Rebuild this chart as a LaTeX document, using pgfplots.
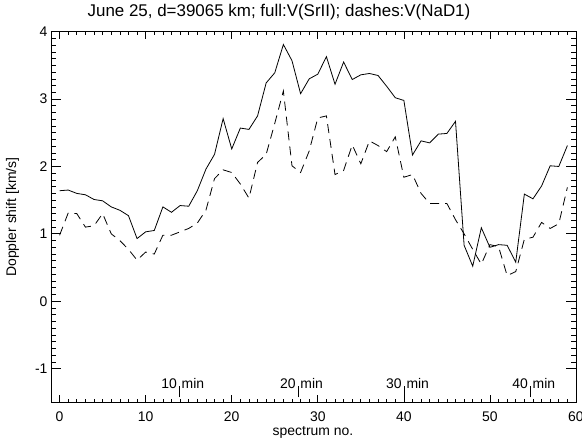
\documentclass[border=0pt]{standalone}
\usepackage{pgfplots}
\pgfplotsset{compat=1.18}
\usepackage{pgfplotstable}
\usepackage{fontspec}
\setmainfont{Liberation Sans}

% Doppler shift per spectrum: sr = V(SrII) (full line), na = V(NaD1) (dashes)
\pgfplotstableread{
n  sr    na
0  1.64  0.98
1  1.65  1.31
2  1.60  1.30
3  1.58  1.10
4  1.51  1.12
5  1.49  1.30
6  1.40  1.00
7  1.35  0.90
8  1.27  0.77
9  0.93  0.61
10 1.03  0.73
11 1.05  0.70
12 1.40  0.98
13 1.32  0.98
14 1.42  1.03
15 1.41  1.08
16 1.64  1.16
17 1.96  1.35
18 2.18  1.82
19 2.71  1.95
20 2.26  1.91
21 2.57  1.74
22 2.55  1.53
23 2.75  2.06
24 3.24  2.18
25 3.39  2.64
26 3.81  3.12
27 3.57  2.01
28 3.08  1.91
29 3.30  2.23
30 3.37  2.72
31 3.63  2.75
32 3.22  1.88
33 3.55  1.94
34 3.29  2.32
35 3.36  2.04
36 3.38  2.38
37 3.35  2.31
38 3.19  2.22
39 3.02  2.44
40 2.98  1.84
41 2.17  1.88
42 2.38  1.60
43 2.35  1.45
44 2.48  1.45
45 2.49  1.45
46 2.67  1.21
47 0.83  1.00
48 0.52  0.77
49 1.09  0.55
50 0.80  0.84
51 0.84  0.81
52 0.83  0.38
53 0.58  0.44
54 1.59  0.92
55 1.52  0.95
56 1.71  1.17
57 2.01  1.08
58 2.00  1.15
59 2.31  1.69
}\doppler

\newcommand{\lbl}{\fontsize{14}{16}\selectfont}
% time marker: number left of a short bar, "min" to its right
\newcommand{\minmark}[1]{\llap{#1\hspace{2bp}}\rule[-8.7bp]{0.8bp}{11bp}\rlap{\hspace{2bp}min}}

\begin{document}
\begin{tikzpicture}
\useasboundingbox (0bp,0bp) rectangle (582bp,440bp);
\begin{axis}[
  at={(51bp,37.7bp)}, anchor=south west,
  scale only axis, width=525bp, height=370.6bp,
  xmin=-1, xmax=60, ymin=-1.5, ymax=4,
  xtick={0,10,...,60}, xticklabels={0,10,20,30,40,50,60},
  ytick={-1,0,...,4}, yticklabels={-1,0,1,2,3,4},
  minor x tick num=9, minor y tick num=9,
  tick align=inside,
  xtick style={/pgfplots/major tick length=7.4bp,/pgfplots/minor tick length=3.7bp},
  ytick style={/pgfplots/major tick length=10.5bp,/pgfplots/minor tick length=5.2bp},
  every tick/.style={black, line width=0.7bp},
  axis line style={line width=0.8bp},
  tick label style={font=\lbl},
  xticklabel style={yshift=-6bp},
]
\addplot[black, line width=0.8bp] table[x=n, y=sr] {\doppler};
\addplot[black, line width=0.8bp, dash pattern=on 9bp off 6bp] table[x=n, y=na] {\doppler};
\node[anchor=base, font=\lbl, inner sep=0pt] at (axis cs:13.91,-1.298) {\minmark{10}};
\node[anchor=base, font=\lbl, inner sep=0pt] at (axis cs:27.70,-1.298) {\minmark{20}};
\node[anchor=base, font=\lbl, inner sep=0pt] at (axis cs:40.03,-1.298) {\minmark{30}};
\node[anchor=base, font=\lbl, inner sep=0pt] at (axis cs:54.69,-1.298) {\minmark{40}};
\end{axis}
\node[anchor=base, font=\fontsize{17}{20}\selectfont, inner sep=0pt] at (279bp,423.3bp)
  {June 25, d=39065 km; full:V(SrII); dashes:V(NaD1)};
\node[anchor=base, font=\lbl, inner sep=0pt] at (313bp,4.5bp) {spectrum no.};
\node[anchor=base, rotate=90, font=\lbl, inner sep=0pt] at (16bp,223bp) {Doppler shift [km/s]};
\end{tikzpicture}
\end{document}
